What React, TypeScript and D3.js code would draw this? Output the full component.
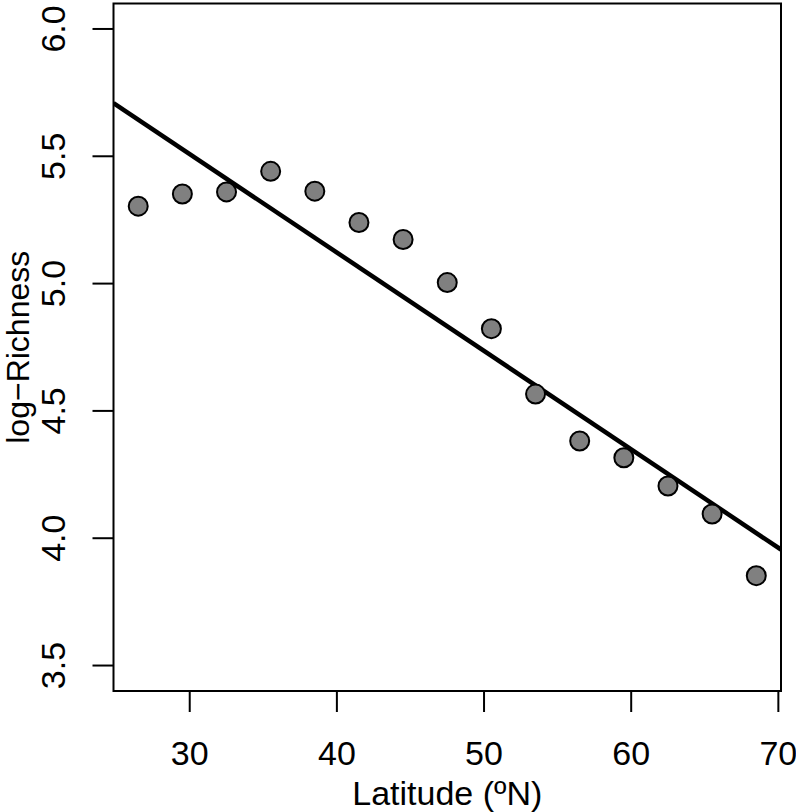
import React from "react";
import * as d3 from "d3";

const latitudes = [26.5, 29.5, 32.5, 35.5, 38.5, 41.5, 44.5, 47.5, 50.5, 53.5, 56.5, 59.5, 62.5, 65.5, 68.5];
const logRichness = [5.304, 5.352, 5.360, 5.441, 5.363, 5.240, 5.173, 5.004, 4.823, 4.566, 4.382, 4.316, 4.205, 4.095, 3.853];
const fitIntercept = 6.668;
const fitSlope = -0.03865;
const xTicks = [30, 40, 50, 60, 70];
const yTicks = [3.5, 4.0, 4.5, 5.0, 5.5, 6.0];

const W = 796;
const H = 812;
const FONT = "Liberation Sans, Arial, Helvetica, sans-serif";

export default function App() {
  const xMin = d3.min(latitudes)!;
  const xMax = d3.max(latitudes)!;
  const xPad = (xMax - xMin) * 0.04;
  const x = d3.scaleLinear().domain([xMin - xPad, xMax + xPad]).range([113.5, 781]);
  const y = d3.scaleLinear().domain([3.4, 6.1]).range([691, 3.5]);
  const [x0, x1] = x.domain();
  const line = d3.line<number>().x((d) => x(d)).y((d) => y(fitIntercept + fitSlope * d));
  const left = x.range()[0];
  const right = x.range()[1];
  const top = y.range()[1];
  const bottom = y.range()[0];
  return (
    <svg width={W} height={H} style={{ position: "absolute", left: 0, top: 0, background: "#fff" }} fontFamily={FONT}>
      <defs>
        <clipPath id="plotclip">
          <rect x={left} y={top} width={right - left} height={bottom - top} />
        </clipPath>
      </defs>
      <path d={line([x0, x1])!} stroke="#000" strokeWidth={4.5} fill="none" clipPath="url(#plotclip)" />
      {latitudes.map((lat, i) => (
        <circle key={i} cx={x(lat)} cy={y(logRichness[i])} r={9.5} fill="#808080" stroke="#000" strokeWidth={2} />
      ))}
      <rect x={left} y={top} width={right - left} height={bottom - top} fill="none" stroke="#000" strokeWidth={2} />
      {xTicks.map((t) => (
        <g key={t}>
          <line x1={x(t)} x2={x(t)} y1={bottom} y2={bottom + 21} stroke="#000" strokeWidth={2} />
          <text x={x(t)} y={765} textAnchor="middle" fontSize={34}>{t}</text>
        </g>
      ))}
      {yTicks.map((t) => (
        <g key={t}>
          <line x1={left - 21} x2={left} y1={y(t)} y2={y(t)} stroke="#000" strokeWidth={2} />
          <text transform={`translate(65,${y(t)}) rotate(-90)`} textAnchor="middle" fontSize={34}>{t.toFixed(1)}</text>
        </g>
      ))}
      <text x={(left + right) / 2} y={805} textAnchor="middle" fontSize={34}>Latitude (ºN)</text>
      <text transform={`translate(29,${(top + bottom) / 2}) rotate(-90)`} textAnchor="middle" fontSize={32}>log−Richness</text>
    </svg>
  );
}
